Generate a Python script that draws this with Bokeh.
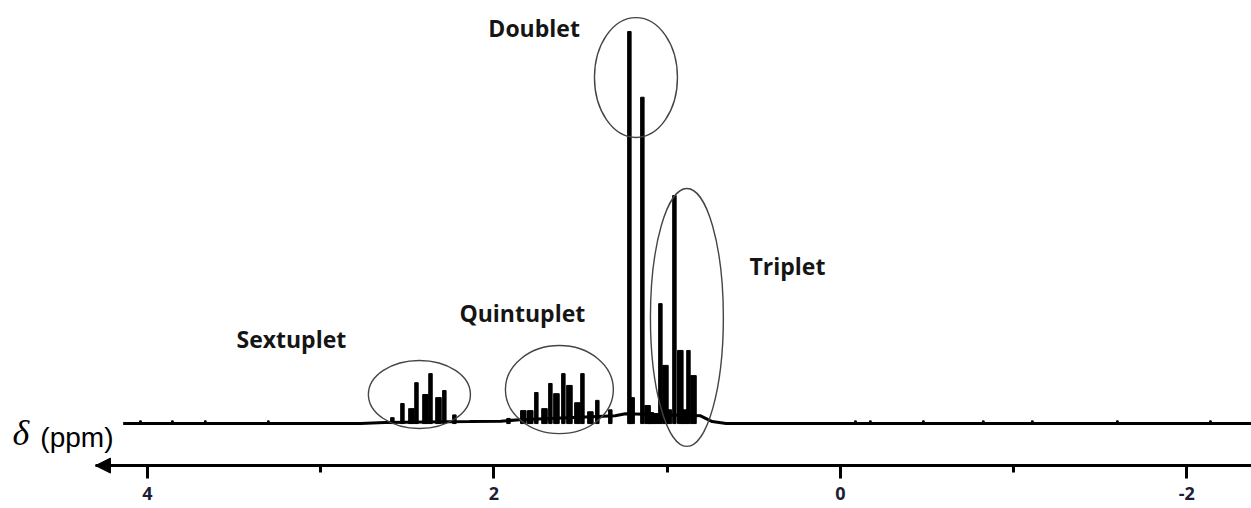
from bokeh.plotting import figure
from bokeh.models import Range1d, SingleIntervalTicker, LinearAxis, Arrow, NormalHead, Label
from bokeh.core.properties import value
from bokeh.embed import file_html
from bokeh.resources import INLINE

# ---- data (chemical shift in ppm, relative intensity) ----
base_ppm = [4.14, 2.77, 2.63, 2.14, 1.96, 1.85, 1.30, 1.24, 0.81, 0.74, 0.66, -2.40]
base_int = [0.0, 0.0, 0.3, 0.5, 0.6, 1.0, 2.0, 2.5, 2.0, 0.5, 0.0, 0.0]

line_ppm = [2.586, 2.528, 2.447, 2.366, 2.286, 2.228,
            1.916, 1.755, 1.674, 1.599, 1.489, 1.403, 1.328,
            1.218, 1.143,
            1.039, 0.958, 0.877]
line_int = [1.5, 5.1, 10.4, 12.7, 8.4, 2.2,
            1.3, 7.9, 10.2, 12.7, 12.7, 5.9, 3.5,
            99.7, 83.0,
            30.5, 58.0, 18.6]

shoulder_ppm = [2.476, 2.395, 2.320,
                1.830, 1.790, 1.708, 1.639, 1.564, 1.518, 1.443,
                1.205, 1.113, 1.094, 1.065,
                1.010, 0.924, 0.848, 0.990, 0.900]
shoulder_int = [3.8, 7.4, 6.6,
                3.3, 3.3, 3.8, 7.6, 9.7, 5.3, 3.0,
                6.6, 4.6, 2.8, 2.5,
                14.8, 18.6, 12.2, 3.5, 3.5]

noise_ppm = [4.040, 3.856, 3.666, 3.302, -0.087, -0.173, -0.479, -0.825, -1.108, -1.599, -2.136]
noise_int = [0.7, 0.7, 0.7, 0.7, 0.7, 0.7, 0.7, 0.7, 0.7, 0.7, 0.7]

multiplets = ["Sextuplet", "Quintuplet", "Doublet", "Triplet"]
region_ppm = [2.430, 1.622, 1.180, 0.886]
region_int = [7.4, 8.65, 88.0, 27.0]
region_w_ppm = [0.589, 0.623, 0.479, 0.421]
region_h_int = [17.3, 22.4, 30.5, 65.6]
label_ppm = [3.486, 2.199, 2.032, 0.525]
label_int = [21.6, 28.0, 100.5, 40.0]

tick_step = 2
axis_ppm_end = 4.30      # arrow tip of the shift axis
axis_level = -10.69      # level (intensity units) where the shift axis is drawn
x_start, x_end = 4.848, -2.373
y_start, y_end = -21.6, 107.6

p = figure(width=1251, height=508, x_range=Range1d(x_start, x_end),
           y_range=Range1d(y_start, y_end), output_backend="svg",
           toolbar_location=None, x_axis_location=None, y_axis_location=None,
           min_border=0)
p.outline_line_color = None
p.grid.visible = False
p.background_fill_color = "white"

ax = LinearAxis(ticker=SingleIntervalTicker(interval=tick_step, num_minor_ticks=2),
                bounds=(-2.45, axis_ppm_end), fixed_location=axis_level)
ax.axis_line_width = 3
ax.axis_line_color = "black"
ax.major_tick_line_width = 3
ax.major_tick_line_color = "black"
ax.major_tick_in = 0
ax.major_tick_out = 13
ax.minor_tick_line_width = 3
ax.minor_tick_line_color = "black"
ax.minor_tick_in = 0
ax.minor_tick_out = 7
ax.major_label_text_font = "Open Sans"
ax.major_label_text_font_size = "18px"
ax.major_label_text_font_style = "bold"
ax.major_label_text_color = "#1d1d35"
ax.major_label_standoff = 8
ax.major_label_overrides = {-2: "-2"}
p.add_layout(ax, "below")

p.add_layout(Arrow(end=NormalHead(size=15, fill_color="black", line_color="black"),
                   x_start=4.1, y_start=axis_level, x_end=axis_ppm_end, y_end=axis_level,
                   line_width=3, line_color="black"))

# spectrum
p.line(base_ppm, base_int, line_width=3, color="black")
p.vbar(x=noise_ppm, top=noise_int, bottom=0, width=0.01, color="black")
p.vbar(x=shoulder_ppm, top=shoulder_int, bottom=0, width=0.032, color="black")
p.vbar(x=line_ppm, top=line_int, bottom=0, width=0.02, color="black")

# multiplet regions
p.ellipse(x=region_ppm, y=region_int, width=region_w_ppm, height=region_h_int,
          fill_color=None, line_color="#444444", line_width=1.4)

p.text(x=label_ppm, y=label_int, text=multiplets, text_font=value("Open Sans"),
       text_font_style="bold", text_font_size="23px", text_baseline="middle",
       text_align="left", text_color="#151515")

p.add_layout(Label(x=4.779, y=-2.3, text="δ", text_font="Liberation Serif",
                   text_font_style="italic", text_font_size="36px",
                   text_baseline="middle", text_color="black"))
p.add_layout(Label(x=4.618, y=-3.6, text="(ppm)", text_font="Liberation Sans",
                   text_font_size="28px", text_baseline="middle", text_color="black"))

open("out.html", "w").write(file_html(p, INLINE))
